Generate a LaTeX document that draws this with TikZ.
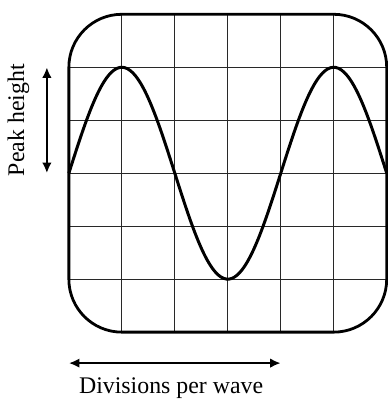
\documentclass[tikz,border=0pt]{standalone}
\usepackage{fontspec}
\setmainfont{Liberation Serif}
\usetikzlibrary{arrows.meta}
\definecolor{gridcolor}{RGB}{40, 40, 40}

\begin{document}
\begin{tikzpicture}[
    screen/.style={line width=1.5pt, rounded corners=1cm},
    gridline/.style={gridcolor, line width=0.55pt},
    wave/.style={black, line width=1.6pt},
    measure/.style={{Latex[length=2mm, width=1.8mm]}-{Latex[length=2mm, width=1.8mm]}, line width=1.4pt},
    label/.style={font=\fontsize{12.8}{15}\selectfont},
  ]

  \def\size{6}      % Divisions on each side
  \def\amp{2}       % Peak height in divisions

  \useasboundingbox (-1.30, -1.30) rectangle (\size+0.02, \size+0.27);

  % --- Screen grid ---
  \begin{scope}
    \clip[rounded corners=1cm] (0, 0) rectangle (\size, \size);
    \draw[gridline] (0, 0) grid (\size, \size);
  \end{scope}
  \draw[screen] (0, 0) rectangle (\size, \size);

  % --- Trace ---
  \draw[wave, domain=0:\size, samples=120, smooth]
    plot (\x, {\size/2 + \amp*sin(90*\x)});

  % --- Peak height ---
  \coordinate (pk-bot) at (-0.415, \size/2);
  \coordinate (pk-top) at (-0.415, \size/2+\amp);
  \draw[measure] (pk-bot) -- (pk-top);
  \node[label, rotate=90] (peak) at (-0.95, \size/2+\amp/2) {Peak height};

  % --- Divisions per wave ---
  \coordinate (dv-left) at (0, -0.585);
  \coordinate (dv-right) at (4, -0.585);
  \draw[measure] (dv-left) -- (dv-right);
  \node[label] (divs) at (1.93, -1.06) {Divisions per wave};

\end{tikzpicture}
\end{document}
